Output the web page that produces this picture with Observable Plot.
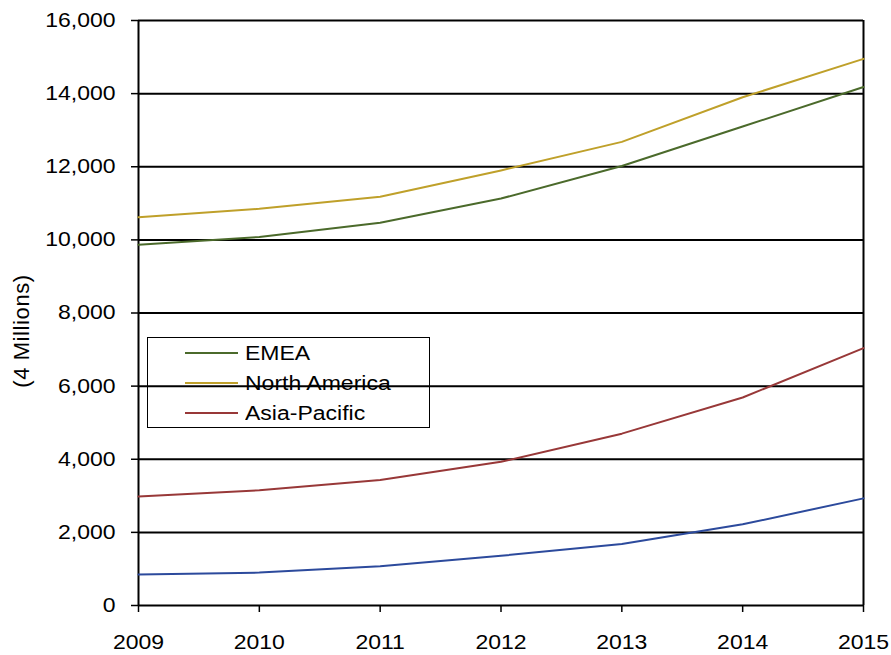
<!DOCTYPE html>
<html>
<head>
<meta charset="utf-8">
<script src="https://cdn.jsdelivr.net/npm/d3@7"></script>
<script src="https://cdn.jsdelivr.net/npm/@observablehq/plot@0.6"></script>
<style>
  html, body { margin: 0; padding: 0; background: #fff; }
  #wrap { position: relative; width: 891px; height: 655px; font-family: "Liberation Sans", Arial, sans-serif; }
  #legend { position: absolute; border: 1.5px solid #000; box-sizing: border-box; background: transparent; }
  .row { position: absolute; left: 0; height: 24px; display: flex; align-items: center; }
  .sw { width: 53px; height: 0; border-top: 2px solid; margin-left: 37px; margin-right: 7px; }
  .lbl { font-size: 20px; color: #000; transform: scaleX(1.15); transform-origin: left center; white-space: nowrap; }
  #ylabel { position: absolute; font-size: 22px; color: #000; white-space: nowrap; transform: translate(-50%, -50%) rotate(-90deg); letter-spacing: 0.6px; }
</style>
</head>
<body>
<div id="wrap"></div>
<script>
// ---- data ----
const years = [2009, 2010, 2011, 2012, 2013, 2014, 2015];
const emea = [9870, 10080, 10470, 11130, 12020, 13100, 14180];
const northAmerica = [10620, 10850, 11180, 11900, 12680, 13900, 14950];
const asiaPacific = [2980, 3150, 3430, 3930, 4700, 5690, 7040];
const otherRegion = [850, 900, 1075, 1360, 1680, 2220, 2930];
const yTicks = [0, 2000, 4000, 6000, 8000, 10000, 12000, 14000, 16000];
const seriesNames = ["EMEA", "North America", "Asia-Pacific", "Other"];
const seriesColors = ["#4B6A2B", "#BFA02A", "#983838", "#2C4A9C"];
const seriesValues = [emea, northAmerica, asiaPacific, otherRegion];
const legendNames = ["EMEA", "North America", "Asia-Pacific"];
const yLabel = "(4 Millions)";

const rows = [];
seriesNames.forEach((name, s) => {
  years.forEach((yr, i) => rows.push({series: name, year: yr, value: seriesValues[s][i]}));
});

const chart = Plot.plot({
  width: 891,
  height: 655,
  marginLeft: 138,
  marginRight: 28,
  marginTop: 20,
  marginBottom: 50,
  style: {fontFamily: "'Liberation Sans', Arial, sans-serif", fontSize: "20px", color: "#000", background: "#fff"},
  x: {domain: [2009, 2015]},
  y: {domain: [0, 16000]},
  color: {domain: seriesNames, range: seriesColors},
  marks: [
    Plot.ruleY(yTicks, {stroke: "#000", strokeWidth: 2}),
    Plot.ruleX([years[0], years[years.length - 1]], {stroke: "#000", strokeWidth: 2}),
    Plot.axisY({ticks: yTicks, tickFormat: d3.format(","), tickSize: 7, tickPadding: 16, stroke: "#000", strokeWidth: 1.5, fontSize: 20, label: null}),
    Plot.axisX({ticks: years, tickFormat: d3.format("d"), tickSize: 7, tickPadding: 22, stroke: "#000", strokeWidth: 1.5, fontSize: 20, label: null}),
    Plot.line(rows, {x: "year", y: "value", z: "series", stroke: "series", strokeWidth: 2})
  ]
});

const wrap = document.getElementById("wrap");
wrap.appendChild(chart);

// widen tick labels horizontally around their anchor, as in the reference
d3.select(chart).selectAll("g[aria-label$='tick label'] text").each(function() {
  const t = this.getAttribute("transform") || "";
  this.setAttribute("transform", t + " scale(1.15,1)");
});

// y-axis title
const yl = document.createElement("div");
yl.id = "ylabel";
yl.textContent = yLabel;
yl.style.left = "22px";
yl.style.top = "331px";
wrap.appendChild(yl);

// legend
const legend = document.createElement("div");
legend.id = "legend";
legend.style.left = "147px";
legend.style.top = "337px";
legend.style.width = "283px";
legend.style.height = "91px";
legendNames.forEach((name, i) => {
  const r = document.createElement("div");
  r.className = "row";
  r.style.top = (3 + i * 30) + "px";
  const sw = document.createElement("div");
  sw.className = "sw";
  sw.style.borderTopColor = seriesColors[seriesNames.indexOf(name)];
  const lb = document.createElement("span");
  lb.className = "lbl";
  lb.textContent = name;
  r.appendChild(sw);
  r.appendChild(lb);
  legend.appendChild(r);
});
wrap.appendChild(legend);
</script>
</body>
</html>
